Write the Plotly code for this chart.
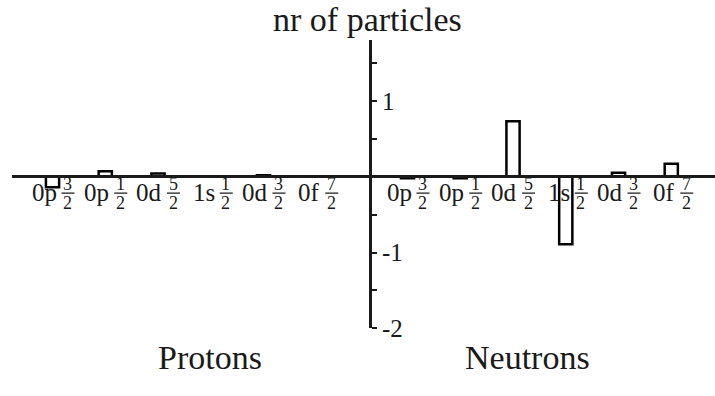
import plotly.graph_objects as go

# Single-particle orbitals (label stem and j = num/den)
orbit_stem = ["0p", "0p", "0d", "1s", "0d", "0f"]
orbit_num = ["3", "1", "5", "1", "3", "7"]
orbit_den = ["2", "2", "2", "2", "2", "2"]

# Change in occupation number per orbital
protons = [-0.14, 0.07, 0.04, 0.0, 0.02, 0.0]
neutrons = [-0.02, -0.02, 0.73, -0.89, 0.05, 0.17]

# Axis ticks
ytick_vals = [-2, -1.5, -1, -0.5, 0, 0.5, 1, 1.5]
ytick_text = ["-2", "", "-1", "", "", "", "1", ""]

FONT = "Liberation Serif, DejaVu Serif, serif"
INK = "#1a1a1a"
W, H = 715, 381            # drawable page area in px
NEUTRON_OFFSET = 6.73      # where the neutron group starts on the x scale


def py(pixel):
    """Paper y fraction for a pixel row measured from the top."""
    return 1 - pixel / H


px = list(range(len(orbit_stem)))
nx = [i + NEUTRON_OFFSET for i in px]

bar_style = dict(
    width=0.25,
    marker=dict(color="white", line=dict(color="black", width=2.5)),
    showlegend=False,
    hoverinfo="skip",
)

fig = go.Figure()
fig.add_trace(go.Bar(x=px, y=protons, name="Protons", **bar_style))
fig.add_trace(go.Bar(x=nx, y=neutrons, name="Neutrons", **bar_style))

annotations = []
shapes = []
for positions in (px, nx):
    for pos, stem, num, den in zip(positions, orbit_stem, orbit_num, orbit_den):
        annotations.append(dict(
            x=pos, y=0, xref="x", yref="y", text=stem, showarrow=False,
            xanchor="right", yanchor="middle", xshift=6, yshift=-16,
            font=dict(family=FONT, size=25, color=INK),
        ))
        annotations.append(dict(
            x=pos, y=0, xref="x", yref="y", text=num, showarrow=False,
            xanchor="center", yanchor="middle", xshift=15, yshift=-7,
            font=dict(family=FONT, size=18, color=INK),
        ))
        annotations.append(dict(
            x=pos, y=0, xref="x", yref="y", text=den, showarrow=False,
            xanchor="center", yanchor="middle", xshift=15, yshift=-26,
            font=dict(family=FONT, size=18, color=INK),
        ))
        shapes.append(dict(
            type="line", xref="x", yref="y",
            xsizemode="pixel", xanchor=pos, x0=9, x1=22,
            ysizemode="pixel", yanchor=0, y0=-16.5, y1=-16.5,
            line=dict(color=INK, width=1.3),
        ))

annotations += [
    dict(x=368 / W, y=py(19), xref="paper", yref="paper", text="nr of particles",
         showarrow=False, xanchor="center", yanchor="middle",
         font=dict(family=FONT, size=34, color=INK)),
    dict(x=210 / W, y=py(357), xref="paper", yref="paper", text="Protons",
         showarrow=False, xanchor="center", yanchor="middle",
         font=dict(family=FONT, size=34, color=INK)),
    dict(x=527 / W, y=py(357), xref="paper", yref="paper", text="Neutrons",
         showarrow=False, xanchor="center", yanchor="middle",
         font=dict(family=FONT, size=34, color=INK)),
]

fig.update_layout(
    width=715, height=396, autosize=False,
    margin=dict(l=0, r=0, t=0, b=0),
    paper_bgcolor="white", plot_bgcolor="white",
    annotations=annotations, shapes=shapes,
    xaxis=dict(
        domain=[12 / W, 1], range=[-0.768, 12.559],
        anchor="free", position=py(176),
        showline=True, linewidth=3, linecolor=INK,
        showticklabels=False, ticks="", showgrid=False, zeroline=False,
    ),
    yaxis=dict(
        domain=[py(327.5), py(40)], range=[-2, 1.8],
        anchor="free", position=370 / W, side="right",
        showline=True, linewidth=3, linecolor=INK,
        ticks="outside", ticklen=5, tickwidth=2, tickcolor=INK,
        tickvals=ytick_vals, ticktext=ytick_text,
        tickfont=dict(family=FONT, size=25, color=INK),
        showgrid=False, zeroline=False,
    ),
)

fig.write_html("out.html")
